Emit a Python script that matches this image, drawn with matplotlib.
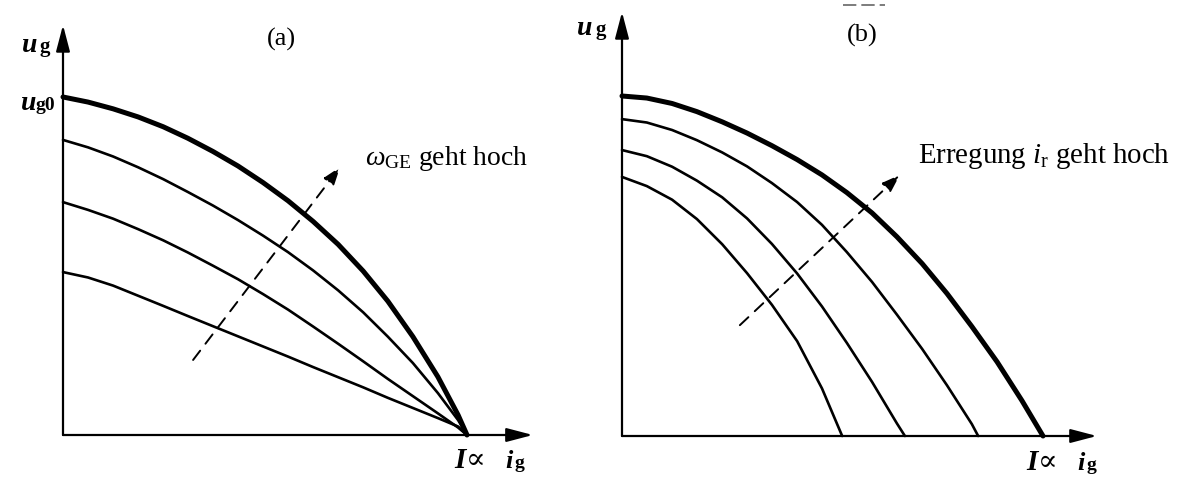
import matplotlib
matplotlib.use("Agg")
import matplotlib.pyplot as plt

plt.rcParams['font.family'] = ['Liberation Serif', 'DejaVu Serif']
plt.rcParams['mathtext.fontset'] = 'custom'
plt.rcParams['mathtext.rm'] = 'Liberation Serif'
plt.rcParams['mathtext.it'] = 'Liberation Serif:italic'

# (a) curves: i_g in units of I_oc, u_g in units of u_g0
ig_a = [0, .062, .124, .186, .248, .309, .371, .433, .495, .557, .619, .681,
        .743, .804, .866, .928, .978, 1.0]
ug_a1 = [1.0, .985, .965, .941, .912, .878, .839, .796, .747, .693, .632, .564,
         .485, .396, .291, .172, .059, 0]
ug_a2 = [.873, .851, .824, .792, .757, .719, .679, .636, .590, .541, .487, .428,
         .363, .291, .213, .124, .044, 0]
ug_a3 = [.689, .666, .640, .609, .576, .540, .501, .461, .417, .371, .321, .270,
         .218, .166, .115, .064, .022, 0]
ug_a4 = [.482, .466, .442, .412, .382, .352, .322, .292, .262, .232, .201, .171,
         .141, .110, .080, .050, .025, 0]

# (b) curves
ig_b = [0, .059, .119, .178, .238, .297, .356, .416, .475, .534, .594, .653,
        .713, .772, .831, .891, .950, 1.0]
ug_b1 = [1.0, .994, .978, .954, .924, .891, .854, .813, .768, .716, .656, .586,
         .507, .419, .322, .218, .104, 0]
ig_b2 = [0, .059, .119, .178, .238, .297, .356, .416, .475, .534, .594, .653,
         .713, .772, .831, .846]
ug_b2 = [.932, .922, .900, .870, .834, .793, .744, .688, .621, .541, .453, .357,
         .256, .149, .035, 0]
ig_b3 = [0, .059, .119, .178, .238, .297, .356, .416, .475, .534, .594, .653, .672]
ug_b3 = [.841, .823, .792, .751, .702, .640, .565, .478, .381, .274, .159, .037, 0]
ig_b4 = [0, .059, .119, .178, .238, .297, .356, .416, .475, .523]
ug_b4 = [.762, .735, .695, .638, .564, .479, .386, .279, .140, 0]

W, H = 1183, 480
fig = plt.figure(figsize=(W / 100, H / 100), dpi=100)


def px(x, y):
    return x / W, 1 - y / H


def panel(x0, y0, sx, sy, xlim, ylim):
    left = x0 + xlim[0] * sx
    right = x0 + xlim[1] * sx
    top = y0 - ylim[1] * sy
    bottom = y0 - ylim[0] * sy
    ax = fig.add_axes([left / W, 1 - bottom / H, (right - left) / W, (bottom - top) / H])
    ax.set_xlim(xlim)
    ax.set_ylim(ylim)
    ax.axis('off')
    return ax


def axes_arrows(ax, xend, yend):
    st = '-|>,head_length=1.6,head_width=0.42'
    for tip in [(xend, 0), (0, yend)]:
        ax.annotate('', xy=tip, xytext=(0, 0),
                    arrowprops=dict(arrowstyle=st, lw=1.6, color='black',
                                    shrinkA=0, shrinkB=0, mutation_scale=10))


def dashed_arrow(ax, start, tip):
    ax.annotate('', xy=tip, xytext=start,
                arrowprops=dict(arrowstyle='-|>,head_length=1.1,head_width=0.38',
                                lw=1.4, color='black', linestyle=(0, (6, 4.5)),
                                shrinkA=0, shrinkB=0, mutation_scale=10))


thin = dict(color='black', lw=1.9, solid_joinstyle='round', solid_capstyle='round')
thick = dict(color='black', lw=3.6, solid_joinstyle='round', solid_capstyle='round')

# panel (a)
axa = panel(63, 435, 404, 338, (-0.15, 1.25), (-0.12, 1.28))
axes_arrows(axa, 1.163, 1.213)
axa.plot(ig_a, ug_a1, **thick)
for ug in [ug_a2, ug_a3, ug_a4]:
    axa.plot(ig_a, ug, **thin)
dashed_arrow(axa, (0.322, 0.222), (0.686, 0.793))

# panel (b)
axb = panel(622, 436, 421, 340, (-0.15, 1.28), (-0.12, 1.28))
axes_arrows(axb, 1.128, 1.247)
axb.plot(ig_b, ug_b1, **thick)
for ig, ug in [(ig_b2, ug_b2), (ig_b3, ug_b3), (ig_b4, ug_b4)]:
    axb.plot(ig, ug, **thin)
dashed_arrow(axb, (0.280, 0.326), (0.660, 0.768))

# labels (a)
lab = dict(ha='center', va='baseline', color='black')
fig.text(*px(30, 52), 'u', fontsize=20, style='italic', weight='bold', **lab)
fig.text(*px(45, 52), 'g', fontsize=15, weight='bold', **lab)
fig.text(*px(29, 110), 'u', fontsize=20, style='italic', weight='bold', **lab)
fig.text(*px(45, 110), 'g0', fontsize=14, weight='bold', **lab)
fig.text(*px(281, 46), '(a)', fontsize=19, **lab)
fig.text(*px(460, 468), 'I', fontsize=21, style='italic', weight='bold', **lab)
fig.text(*px(476, 468), '\u221d', fontsize=21, family='DejaVu Serif', **lab)
fig.text(*px(509, 468), 'i', fontsize=19, style='italic', weight='bold', **lab)
fig.text(*px(519, 468), 'g', fontsize=14, weight='bold', **lab)
fig.text(*px(365, 165), r'$\omega_{\mathrm{GE}}$ geht hoch', fontsize=20,
         ha='left', va='baseline')

# labels (b)
fig.text(*px(585, 35), 'u', fontsize=20, style='italic', weight='bold', **lab)
fig.text(*px(601, 35), 'g', fontsize=15, weight='bold', **lab)
fig.text(*px(862, 42), '(b)', fontsize=19, **lab)
fig.add_artist(plt.Line2D([843 / W, 885 / W], [1 - 5 / H, 1 - 5 / H], color='#666666',
                          lw=1.2, linestyle=(0, (8, 3))))
fig.text(*px(1032, 470), 'I', fontsize=21, style='italic', weight='bold', **lab)
fig.text(*px(1048, 470), '\u221d', fontsize=21, family='DejaVu Serif', **lab)
fig.text(*px(1081, 470), 'i', fontsize=19, style='italic', weight='bold', **lab)
fig.text(*px(1091, 470), 'g', fontsize=14, weight='bold', **lab)
fig.text(*px(918, 163), r'Erregung $i_{\mathrm{r}}$ geht hoch', fontsize=20.8,
         ha='left', va='baseline')

fig.savefig('out.png', dpi=100)
